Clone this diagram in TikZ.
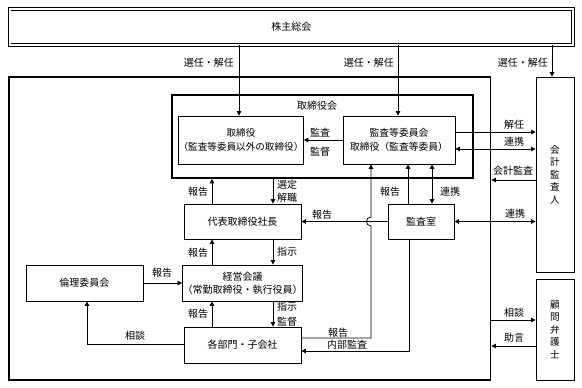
\documentclass[tikz,border=0pt]{standalone}
\usepackage{fontspec}
\setmainfont{Noto Sans CJK JP}
\usetikzlibrary{arrows.meta,calc}
\begin{document}
\begin{tikzpicture}[x=1pt,y=-1pt,
 font=\fontsize{10}{13}\selectfont,
 bx/.style={draw,line width=0.8pt,inner sep=0pt,align=center},
 thickbox/.style={draw,line width=1.8pt,inner sep=0pt},
 arr/.style={line width=0.8pt,-{Triangle[length=4.5pt,width=4.5pt]}},
 darr/.style={line width=0.8pt,{Triangle[length=4.5pt,width=4.5pt]}-{Triangle[length=4.5pt,width=4.5pt]}},
 lbl/.style={inner sep=0pt},
 vert/.style={font=\fontsize{9.6}{12.5}\selectfont}]
\useasboundingbox (0,0) rectangle (582,388);
% boxes
\node[draw,double,double distance=2pt,line width=0.8pt,inner sep=0pt,minimum width=563.5pt,minimum height=36pt] (sh) at (291.25,27) {株主総会};
\node[thickbox,minimum width=481.5pt,minimum height=303pt] (outer) at (249.75,228.5) {};
\node[thickbox,minimum width=301pt,minimum height=83pt] (board) at (322.5,136.5) {};
\node[lbl] (boardl) at (317,106) {取締役会};
\node[bx,minimum width=118pt,minimum height=48pt,font=\fontsize{9.6}{14}\selectfont] (tor) at (241,140) {取締役\\（監査等委員以外の取締役）};
\node[bx,minimum width=112pt,minimum height=48pt,font=\fontsize{9.8}{14}\selectfont] (kic) at (399,140) {監査等委員会\\取締役（監査等委員）};
\node[bx,minimum width=117pt,minimum height=35pt] (dai) at (242.5,221.5) {代表取締役社長};
\node[bx,minimum width=117pt,minimum height=36pt] (kei) at (242.5,283) {経営会議\\（常勤取締役・執行役員）};
\node[bx,minimum width=117pt,minimum height=36pt] (kak) at (242.5,345) {各部門・子会社};
\node[bx,minimum width=117pt,minimum height=36pt] (rin) at (84.5,283) {倫理委員会};
\node[bx,minimum width=66pt,minimum height=35pt] (ksh) at (421,221.5) {監査室};
\node[bx,vert,minimum width=38pt,minimum height=195pt] (kai) at (555,174.5) {会\\計\\監\\査\\人};
\node[bx,vert,minimum width=38pt,minimum height=101pt] (kom) at (555,329.5) {顧\\問\\弁\\護\\士};
% helper coordinates
\coordinate (xa) at (239,0);
\coordinate (xb) at (398,0);
\coordinate (xc) at (552,0);
\coordinate (x1) at (212,0);
\coordinate (x2) at (273,0);
\coordinate (x3) at (408,0);
\coordinate (x4) at (432,0);
\coordinate (h) at (371,338);
\coordinate (c1) at (87,344);
\coordinate (n1) at (409,351);
\coordinate (y1) at (0,132);
\coordinate (y2) at (0,149);
\coordinate (y3) at (0,180);
\coordinate (y5) at (0,320);
\coordinate (y6) at (0,346);
% connectors from shareholders meeting
\draw[arr] (sh.south -| xa) -- (tor.north -| xa);
\draw[arr] (sh.south -| xb) -- (kic.north -| xb);
\draw[arr] (sh.south -| xc) -- (kai.north -| xc);
\node[lbl,anchor=east] (s1) at (234,63) {選任・解任};
\node[lbl,anchor=east] (s2) at (394,63) {選任・解任};
\node[lbl,anchor=east] (s3) at (548,63) {選任・解任};
% inside board
\draw[arr] (kic.west) -- (tor.east);
\node[lbl] (l1) at (320,133) {監査};
\node[lbl] (l2) at (320,152) {監督};
% vertical chain
\draw[arr] (dai.north -| x1) -- (board.south -| x1);
\draw[arr] (board.south -| x2) -- (dai.north -| x2);
\draw[arr] (kei.north -| x1) -- (dai.south -| x1);
\draw[arr] (dai.south -| x2) -- (kei.north -| x2);
\draw[arr] (kak.north -| x1) -- (kei.south -| x1);
\draw[arr] (kei.south -| x2) -- (kak.north -| x2);
\node[lbl] (l3) at (198,192) {報告};
\node[lbl] (l4) at (287,185) {選定};
\node[lbl] (l5) at (287,198) {解職};
\node[lbl] (l6) at (198,252.5) {報告};
\node[lbl] (l7) at (287,252) {指示};
\node[lbl] (l8) at (198,314) {報告};
\node[lbl] (l9) at (287,307) {指示};
\node[lbl] (l10) at (287,321.5) {監督};
% ethics committee
\draw[arr] (rin.east) -- (kei.west);
\node[lbl] (l11) at (162,273) {報告};
\draw[arr] (kak.west |- c1) -- (c1) -- (rin.south -| c1);
\node[lbl] (l12) at (135,336) {相談};
% audit office
\draw[arr] (ksh.west) -- (dai.east);
\node[lbl] (l13) at (322,215) {報告};
\coordinate (hc) at (ksh.west -| h);
\draw[arr] (kak.east |- h) -- (h) -- ($(hc)+(0,4.5)$) .. controls ($(hc)+(-6,4.5)$) and ($(hc)+(-6,-4.5)$) .. ($(hc)+(0,-4.5)$) -- (kic.south -| h);
\node[lbl] (l14) at (338,332.5) {報告};
\draw[arr] (ksh.south -| n1) -- (n1) -- (kak.east |- n1);
\node[lbl] (l15) at (347,344.5) {内部監査};
\draw[arr] (ksh.north -| x3) -- (kic.south -| x3);
\node[lbl] (l16) at (390,192) {報告};
\draw[darr] (kic.south -| x4) -- (ksh.north -| x4);
\node[lbl] (l17) at (450,192) {連携};
% right side
\draw[arr] (kic.east |- y1) -- (kai.west |- y1);
\node[lbl] (l18) at (514,125) {解任};
\draw[darr] (kic.east |- y2) -- (kai.west |- y2);
\node[lbl] (l19) at (514,142) {連携};
\draw[arr] (kai.west |- y3) -- (outer.east |- y3);
\node[lbl] (l20) at (513,171) {会計監査};
\draw[darr] (ksh.east) -- (kai.west |- ksh.east);
\node[lbl] (l21) at (515,214) {連携};
\draw[arr] (outer.east |- y5) -- (kom.west |- y5);
\node[lbl] (l22) at (514,313) {相談};
\draw[arr] (kom.west |- y6) -- (outer.east |- y6);
\node[lbl] (l23) at (514,338) {助言};
\end{tikzpicture}
\end{document}
